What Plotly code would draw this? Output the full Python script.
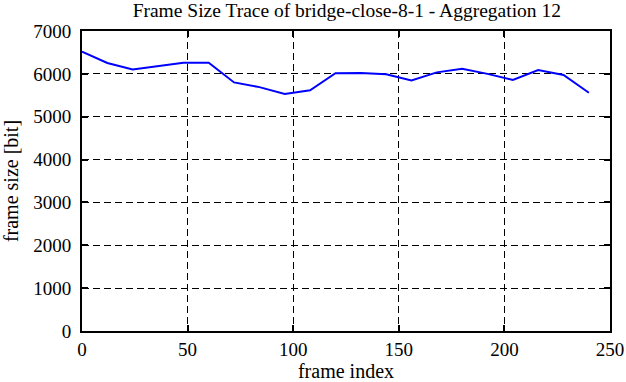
import plotly.graph_objects as go

frame_index = [0, 12, 24, 36, 48, 60, 72, 84, 96, 108, 120, 132, 144, 156, 168, 180, 192, 204, 216, 228, 240]
frame_size = [6520, 6255, 6100, 6175, 6260, 6260, 5800, 5690, 5530, 5615, 6015, 6020, 5990, 5845, 6035, 6120, 6000, 5860, 6090, 5975, 5560]

x_ticks = [0, 50, 100, 150, 200, 250]
y_ticks = [0, 1000, 2000, 3000, 4000, 5000, 6000, 7000]

font_family = "Liberation Serif"

fig = go.Figure()
fig.add_trace(go.Scatter(x=frame_index, y=frame_size, mode="lines",
                         line=dict(color="#0000ff", width=2), showlegend=False))

axis_common = dict(
    showline=True, linecolor="black", linewidth=2, mirror="ticks",
    ticks="inside", ticklen=6, tickwidth=1.5, tickcolor="black",
    showgrid=True, gridcolor="black", gridwidth=1, griddash="7px,4px",
    zeroline=False, automargin=False,
    tickfont=dict(family=font_family, size=19, color="black"),
)

fig.update_xaxes(range=[0, 250], tickvals=x_ticks, ticktext=[str(v) for v in x_ticks],
                 ticklabelstandoff=0,
                 title=dict(text="frame index", font=dict(family=font_family, size=20, color="black"), standoff=8),
                 **axis_common)
fig.update_yaxes(range=[0, 7000], tickvals=y_ticks, ticktext=[str(v) for v in y_ticks],
                 ticklabelstandoff=5,
                 title=dict(text="frame size [bit]", font=dict(family=font_family, size=20, color="black"), standoff=16),
                 **axis_common)

fig.update_layout(
    width=626, height=382,
    margin=dict(l=82, r=16, t=31, b=51),
    paper_bgcolor="white", plot_bgcolor="white",
    title=dict(text="Frame Size Trace of bridge-close-8-1 - Aggregation 12",
               font=dict(family=font_family, size=19.5, color="black"),
               x=0.554, xanchor="center", yref="container", y=1 - 10 / 382, yanchor="middle"),
)

fig.write_html("out.html", config={"displayModeBar": False},
               post_script="document.body.style.margin='0';document.body.style.padding='0';")
